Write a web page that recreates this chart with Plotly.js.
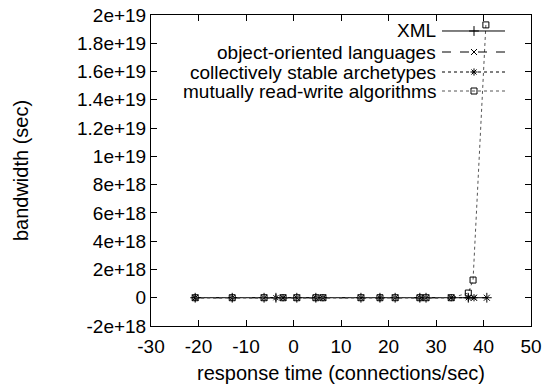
<!DOCTYPE html>
<html>
<head>
<meta charset="utf-8">
<script src="https://cdn.plot.ly/plotly-3.0.1.min.js"></script>
<style>html,body{margin:0;padding:0;background:#fff;}#chart{width:547px;height:389px;}</style>
</head>
<body>
<div id="chart"></div>
<script>
// ---- data ----
const seriesNames = ["XML", "object-oriented languages", "collectively stable archetypes", "mutually read-write algorithms"];
const xmlX = [-20.7, -12.9, -6.2, -3.7, 0.7, 4.7, 14.2, 18.2, 21.4, 26.6, 27.9, 36.8, 40.7];
const xmlY = [0, 0, 0, 0, 0, 0, 0, 0, 0, 0, 0, 0, 0];
const ooX = [-20.7, -6.2, -2.2, 0.7, 6.2, 14.2, 21.4, 27.9, 33.2, 38.0, 40.7];
const ooY = [0, 0, 0, 0, 0, 0, 0, 0, 0, 0, 0];
const csX = [-20.7, -12.9, -3.7, -2.2, 4.7, 6.2, 18.2, 26.6, 33.2, 36.8, 38.0];
const csY = [0, 0, 0, 0, 0, 0, 0, 0, 0, 0, 0];
const mrX = [-20.7, -12.9, -6.2, -2.2, 0.7, 4.7, 6.2, 14.2, 18.2, 21.4, 26.6, 27.9, 33.2, 36.8, 37.8, 40.5];
const mrY = [0, 0, 0, 0, 0, 0, 0, 0, 0, 0, 0, 0, 0, 3.3e17, 1.25e18, 1.93e19];
const xTicks = [-30, -20, -10, 0, 10, 20, 30, 40, 50];
const yTicks = [-2e18, 0, 2e18, 4e18, 6e18, 8e18, 1e19, 1.2e19, 1.4e19, 1.6e19, 1.8e19, 2e19];
const yTickText = ["-2e+18", "0", "2e+18", "4e+18", "6e+18", "8e+18", "1e+19", "1.2e+19", "1.4e+19", "1.6e+19", "1.8e+19", "2e+19"];

// ---- styles ----
const styles = [
  {dash: "solid", color: "#000", symbol: "cross-thin-open", size: 7},
  {dash: "dash", color: "#000", symbol: "x-thin-open", size: 6},
  {dash: "dot", color: "#000", symbol: "asterisk-open", size: 6},
  {dash: "dot", color: "#555", symbol: "square-open", size: 6}
];
const xs = [xmlX, ooX, csX, mrX];
const ys = [xmlY, ooY, csY, mrY];

const traces = xs.map((x, i) => ({
  x: x, y: ys[i], type: "scatter", mode: "lines+markers", name: seriesNames[i],
  line: {color: styles[i].color, width: 1, dash: styles[i].dash},
  marker: {symbol: styles[i].symbol, size: styles[i].size, color: "#000", line: {color: styles[i].color, width: 1}},
  showlegend: false
}));

// custom gnuplot-style legend (text right, sample left) on overlay axes
const legRowsY = [0.9486, 0.881, 0.8167, 0.7556]; // fraction of plot height
const annotations = [];
const shapes = [];
const legFont = {family: "Liberation Sans, Arial, sans-serif", size: 19, color: "#000"};
seriesNames.forEach((n, i) => {
  annotations.push({xref: "paper", yref: "paper", x: 0.7526, y: legRowsY[i], xanchor: "right", yanchor: "middle",
    text: n, showarrow: false, font: legFont, borderpad: 0});
  shapes.push({type: "line", xref: "paper", yref: "paper", x0: 0.7658, x1: 0.9316, y0: legRowsY[i], y1: legRowsY[i],
    line: {color: styles[i].color, width: 1, dash: styles[i].dash}});
  traces.push({x: [0.85], y: [legRowsY[i]], xaxis: "x2", yaxis: "y2", type: "scatter", mode: "markers",
    marker: {symbol: styles[i].symbol, size: styles[i].size, color: "#000", line: {color: styles[i].color, width: 1}},
    showlegend: false, hoverinfo: "skip"});
});

const tickFont = {family: "Liberation Sans, Arial, sans-serif", size: 19, color: "#000"};
const titleFont = {family: "Liberation Sans, Arial, sans-serif", size: 20, color: "#000"};
const layout = {
  width: 547, height: 389,
  margin: {l: 151, r: 16, t: 15, b: 63},
  paper_bgcolor: "#fff", plot_bgcolor: "#fff",
  font: tickFont,
  showlegend: false,
  xaxis: {range: [-30, 50], tickvals: xTicks, ticktext: xTicks.map(String), ticks: "inside", ticklen: 6, tickcolor: "#000",
    showline: true, linecolor: "#000", linewidth: 1, mirror: "ticks", showgrid: false, zeroline: false,
    ticklabelstandoff: 3,
    title: {text: "response time (connections/sec)", font: titleFont, standoff: 10}, tickfont: tickFont},
  yaxis: {range: [-2e18, 2e19], tickvals: yTicks, ticktext: yTickText, ticks: "inside", ticklen: 6, tickcolor: "#000",
    showline: true, linecolor: "#000", linewidth: 1, mirror: "ticks", showgrid: false, zeroline: false,
    title: {text: "bandwidth (sec)", font: titleFont, standoff: 42}, tickfont: tickFont},
  xaxis2: {overlaying: "x", range: [0, 1], visible: false, fixedrange: true},
  yaxis2: {overlaying: "y", range: [0, 1], visible: false, fixedrange: true},
  annotations: annotations,
  shapes: shapes
};
Plotly.newPlot("chart", traces, layout, {staticPlot: true, displayModeBar: false});
</script>
</body>
</html>
